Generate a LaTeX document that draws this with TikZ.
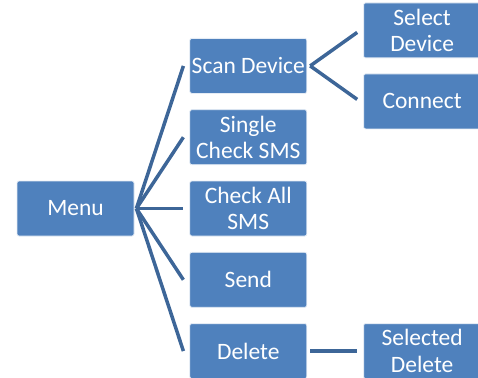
\documentclass[tikz,border=0pt]{standalone}
\usepackage{fontspec}
\setmainfont{Carlito}
\usetikzlibrary{positioning}

\definecolor{boxblue}{RGB}{79,129,189}
\definecolor{linkblue}{RGB}{61,102,152}

\begin{document}
\begin{tikzpicture}[node distance=15.5pt and 55pt,
    box/.style={draw=white!85!boxblue, line width=0.8pt, fill=boxblue, rounded corners=2pt,
        minimum width=117pt, minimum height=55pt, inner sep=0pt,
        text=white, align=center, font=\fontsize{23.5}{26.5}\selectfont},
    link/.style={draw=linkblue, line width=3.5pt}]
    \useasboundingbox (0,0) rectangle (478pt,-377pt);

    % Nodes
    \node (menu) [box] at (75.5pt,-208.5pt) {Menu};  % root of the menu tree
    \node (checkall) [box, right=of menu] {Check All\\SMS};
    \node (single) [box, above=of checkall] {Single\\Check SMS};
    \node (scan) [box, above=of single] {Scan Device};
    \node (send) [box, below=of checkall] {Send};
    \node (delete) [box, below=of send] {Delete};
    \node (select) [box, right=56pt of scan, yshift=35.5pt] {Select\\Device};
    \node (connect) [box, right=56pt of scan, yshift=-35.5pt] {Connect};
    \node (seldelete) [box, right=56pt of delete] {Selected\\Delete};

    % Links
    \foreach \child in {scan, single, checkall, send, delete}
        \draw [link] ([xshift=2pt]menu.east) -- ([xshift=-6pt]\child.west);
    \draw [link] ([xshift=3pt]scan.east) -- ([xshift=-6pt, yshift=-2pt]select.west);
    \draw [link] ([xshift=3pt]scan.east) -- ([xshift=-6pt, yshift=2pt]connect.west);
    \draw [link] ([xshift=3pt]delete.east) -- ([xshift=-6pt]seldelete.west);
\end{tikzpicture}
\end{document}
